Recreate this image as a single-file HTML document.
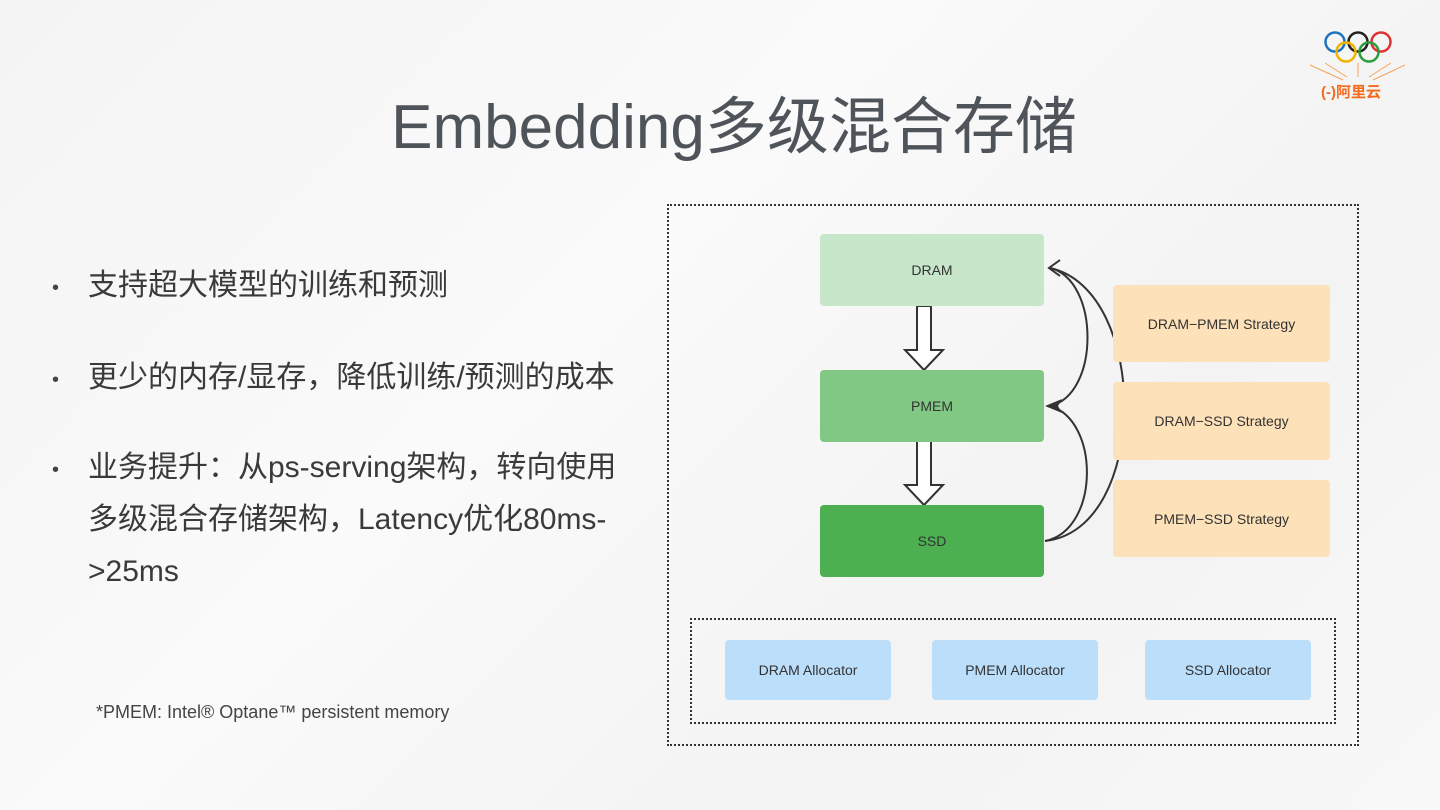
<!DOCTYPE html>
<html><head><meta charset="utf-8"><style>
body{margin:0;width:1440px;height:810px;overflow:hidden;background:linear-gradient(135deg,#f4f4f4 0%,#fafafa 40%,#f3f3f3 70%,#f8f8f8 100%);font-family:"Liberation Sans","Noto Sans CJK SC",sans-serif;position:relative}
.a{position:absolute}
h1{position:absolute;left:14px;width:1440px;top:76px;margin:0;text-align:center;font-weight:400;font-size:62px;color:#4f545a;font-family:"Liberation Sans","Noto Sans CJK SC",sans-serif}
.b{font-size:30px;color:#3a3a3a;line-height:52px}
.d{font-size:20px;color:#444;line-height:52px}
.box{position:absolute;display:flex;align-items:center;justify-content:center;font-size:14px;color:#333;border-radius:4px}
</style></head><body>
<h1>Embedding多级混合存储</h1>
<div class="a d" style="left:52px;top:262px">•</div><div class="a b" style="left:88px;top:260px">支持超大模型的训练和预测</div>
<div class="a d" style="left:52px;top:354px">•</div><div class="a b" style="left:88px;top:352px">更少的内存/显存，降低训练/预测的成本</div>
<div class="a d" style="left:52px;top:444px">•</div><div class="a b" style="left:88px;top:442px;width:545px">业务提升：从ps-serving架构，转向使用多级混合存储架构，Latency优化80ms-<br>&gt;25ms</div>
<div class="a" style="left:96px;top:702px;font-size:18px;color:#444">*PMEM: Intel® Optane™ persistent memory</div>
<div class="a" style="left:667px;top:204px;width:688px;height:538px;border:2px dotted #333"></div>
<div class="a" style="left:690px;top:618px;width:642px;height:102px;border:2px dotted #333"></div>
<svg class="a" style="left:0;top:0" width="1440" height="810">
<g fill="none" stroke="#333" stroke-width="2">
<path d="M1045 541 C1150 530,1150 290,1050 268"/>
<path d="M1045 541 C1100 530,1100 420,1050 406"/>
<path d="M1050 406 C1100 395,1100 280,1050 268"/>
<path d="M1060 260 L1049 268 L1060 276"/>
<path d="M917 306h14v44h12l-19 20l-19-20h12z" fill="#fff"/>
<path d="M917 441h14v44h12l-19 20l-19-20h12z" fill="#fff"/>
</g>
<path d="M1045 406 L1062 399 L1058 406 L1062 413z" fill="#333"/>
</svg>
<div class="box" style="left:820px;top:234px;width:224px;height:72px;background:#c7e6ca">DRAM</div>
<div class="box" style="left:820px;top:370px;width:224px;height:72px;background:#80c883">PMEM</div>
<div class="box" style="left:820px;top:505px;width:224px;height:72px;background:#4caf50">SSD</div>
<div class="box" style="left:1113px;top:285px;width:217px;height:77px;background:#fde1b8">DRAM−PMEM Strategy</div>
<div class="box" style="left:1113px;top:382px;width:217px;height:78px;background:#fde1b8">DRAM−SSD Strategy</div>
<div class="box" style="left:1113px;top:480px;width:217px;height:77px;background:#fde1b8">PMEM−SSD Strategy</div>
<div class="box" style="left:725px;top:640px;width:166px;height:60px;background:#bbdefb">DRAM Allocator</div>
<div class="box" style="left:932px;top:640px;width:166px;height:60px;background:#bbdefb">PMEM Allocator</div>
<div class="box" style="left:1145px;top:640px;width:166px;height:60px;background:#bbdefb">SSD Allocator</div>
<svg class="a" style="left:1305px;top:25px" width="110" height="85">
<g fill="none" stroke-width="2.5">
<circle cx="30" cy="17" r="9.5" stroke="#1e73be"/><circle cx="53" cy="17" r="9.5" stroke="#222"/><circle cx="76" cy="17" r="9.5" stroke="#d33"/>
<circle cx="41" cy="27" r="9.5" stroke="#f2b400"/><circle cx="64" cy="27" r="9.5" stroke="#2a9d3a"/>
</g>
<g stroke="#f5a25a" stroke-width="1"><path d="M5 40 L38 55M20 38 L42 52M100 40 L68 55M86 38 L64 52M53 38 L53 52"/></g>
<text x="16" y="72" font-size="15" font-weight="bold" fill="#f26a1b" font-family="Liberation Sans,Noto Sans CJK SC,sans-serif">(-)阿里云</text>
</svg>
</body></html>
